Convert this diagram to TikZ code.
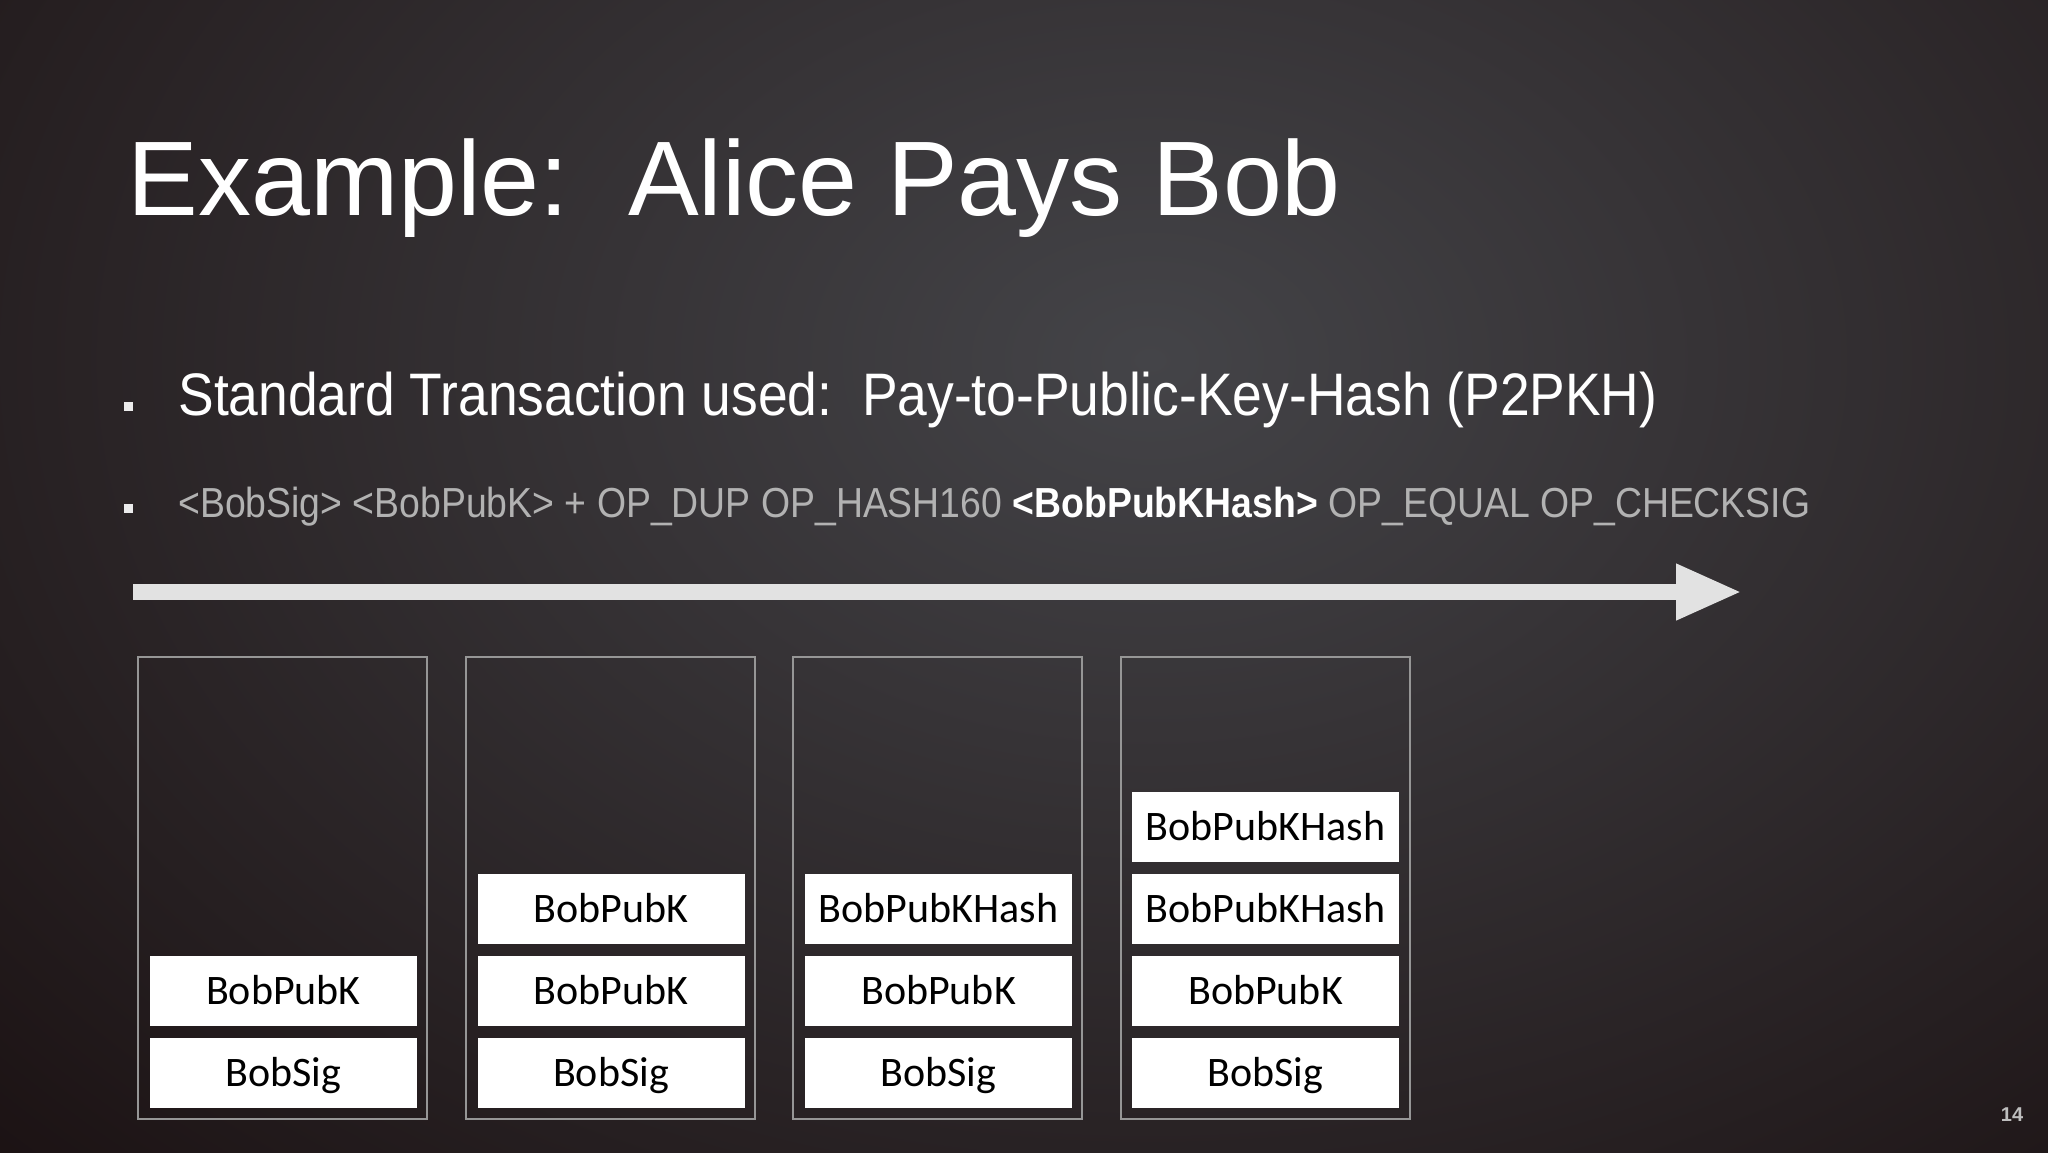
\documentclass[tikz,border=0pt]{standalone}
\usepackage{fontspec}
\setmainfont{Liberation Sans}
\newfontfamily\narrowfont[FakeStretch=0.89]{Liberation Sans}
\newfontfamily\cellfont{Carlito}
\usepackage{tikz}
\usetikzlibrary{arrows.meta}
\definecolor{bgdark}{RGB}{24,14,15}
\definecolor{bglight}{RGB}{68,68,72}
\definecolor{optext}{RGB}{178,178,178}
\definecolor{framegray}{RGB}{150,150,150}
\definecolor{arrowgray}{RGB}{226,226,226}
\definecolor{pagenum}{RGB}{190,190,190}
\frenchspacing

\begin{document}
\begin{tikzpicture}[x=0.5pt,y=-0.5pt,
  stack/.style={draw=framegray, line width=1pt, minimum width=144.5pt, minimum height=231pt, inner sep=0pt},
  cell/.style={fill=white, text=black, minimum width=133.5pt, minimum height=35pt, inner sep=0pt, text height=13.5pt, text depth=0pt, font=\cellfont\fontsize{21}{21}\selectfont},
  bullet/.style={fill=white!85!gray, minimum size=4.5pt, inner sep=0pt}]
\useasboundingbox (0,0) rectangle (2048,1152);
\fill [bgdark] (0,0) rectangle (2048,1152);
\begin{scope}
\clip (0,0) rectangle (2048,1152);
\shade [inner color=bglight, outer color=bgdark] (1150,360) ellipse [x radius=1750, y radius=1250];
\end{scope}

\node [anchor=base west, inner sep=0pt, text=white, font=\fontsize{53}{53}\selectfont] (title) at (127,215) {Example:\ \ Alice Pays Bob};

\node [bullet] (dot1) at (128,406) {};
\node [anchor=base west, inner sep=0pt, text=white, font=\narrowfont\fontsize{30}{30}\selectfont] (point1) at (178,415) {Standard Transaction used:\ \ Pay-to-Public-Key-Hash (P2PKH)};
\node [bullet] (dot2) at (128,508) {};
\node [anchor=base west, inner sep=0pt, text=optext, font=\narrowfont\fontsize{21}{21}\selectfont] (point2) at (178,517) {<BobSig> <BobPubK> + OP\_DUP OP\_HASH160 {\bfseries\color{white}<BobPubKHash>} OP\_EQUAL OP\_CHECKSIG};

\coordinate (arrowstart) at (133,592);
\coordinate (arrowend) at (1742,592);
\draw [arrowgray, line width=8pt, -{Triangle[length=33pt,width=26pt]}] (arrowstart) -- (arrowend);

\node [stack] (stack1) at (282.5,888) {};
\node [stack] (stack2) at (610,888) {};
\node [stack] (stack3) at (937.5,888) {};
\node [stack] (stack4) at (1265.5,888) {};

\node [cell] (s1sig) at (283.5,1073) {BobSig};
\node [cell] (s1pub) at (283.5,991) {BobPubK};

\node [cell] (s2sig) at (611,1073) {BobSig};
\node [cell] (s2pub) at (611,991) {BobPubK};
\node [cell] (s2dup) at (611,909) {BobPubK};

\node [cell] (s3sig) at (938.5,1073) {BobSig};
\node [cell] (s3pub) at (938.5,991) {BobPubK};
\node [cell] (s3hash) at (938.5,909) {BobPubKHash};

\node [cell] (s4sig) at (1265.5,1073) {BobSig};
\node [cell] (s4pub) at (1265.5,991) {BobPubK};
\node [cell] (s4hash) at (1265.5,909) {BobPubKHash};
\node [cell] (s4given) at (1265.5,827) {BobPubKHash};

\node [text=pagenum, font=\bfseries\fontsize{10}{10}\selectfont] (pageno) at (2012,1115) {14};
\end{tikzpicture}
\end{document}
